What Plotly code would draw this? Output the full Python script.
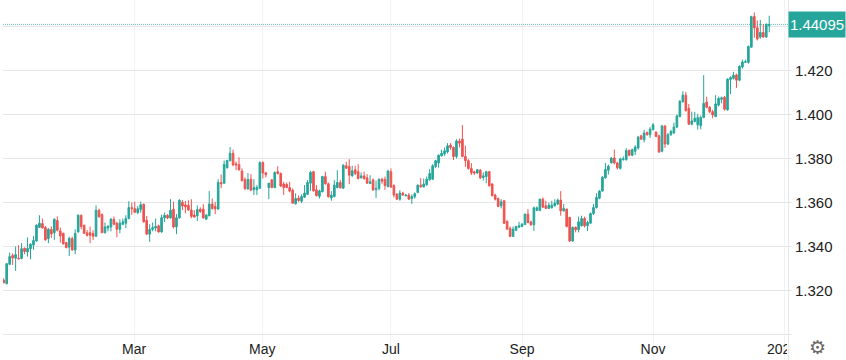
import plotly.graph_objects as go

opens = [
1.3247,1.3231,1.3319,1.3359,1.3347,1.3347,1.3345,1.3392,1.3375,1.3390,
1.3407,1.3425,1.3487,1.3504,1.3486,1.3436,1.3478,1.3463,1.3518,1.3471,
1.3460,1.3418,1.3397,1.3436,1.3384,1.3466,1.3542,1.3497,1.3462,1.3463,
1.3459,1.3447,1.3565,1.3545,1.3462,1.3484,1.3489,1.3524,1.3506,1.3478,
1.3501,1.3506,1.3527,1.3577,1.3572,1.3554,1.3569,1.3592,1.3519,1.3456,
1.3478,1.3484,1.3494,1.3466,1.3530,1.3542,1.3530,1.3569,1.3489,1.3530,
1.3601,1.3589,1.3587,1.3566,1.3543,1.3540,1.3569,
1.3570,1.3524,1.3540,1.3593,1.3582,1.3570,1.3691,1.3688,1.3758,1.3790,
1.3824,1.3776,1.3773,1.3743,1.3705,1.3662,1.3706,1.3658,1.3658,1.3665,
1.3782,1.3735,1.3668,1.3703,1.3668,1.3740,1.3732,1.3684,1.3682,1.3668,
1.3656,1.3594,1.3620,1.3606,1.3624,1.3637,1.3688,1.3740,1.3658,1.3628,
1.3649,1.3718,1.3685,1.3621,1.3627,1.3668,1.3691,1.3665,1.3767,1.3764,
1.3721,1.3749,1.3740,1.3712,1.3721,1.3712,1.3686,1.3703,1.3658,1.3664,
1.3705,1.3705,1.3673,1.3740,1.3677,1.3637,
1.3615,1.3643,1.3631,1.3634,1.3618,1.3626,1.3646,1.3679,1.3671,1.3681,
1.3703,1.3706,1.3764,1.3780,1.3812,1.3821,1.3830,1.3861,1.3850,1.3809,
1.3879,1.3888,1.3809,1.3790,1.3755,1.3740,1.3734,1.3747,1.3714,1.3718,
1.3740,1.3684,1.3634,1.3618,1.3585,1.3608,1.3515,1.3482,1.3446,1.3474,
1.3488,1.3491,1.3500,1.3547,1.3512,1.3499,1.3564,1.3564,1.3615,1.3585,
1.3573,1.3576,1.3585,1.3593,1.3611,1.3562,1.3570,1.3532,1.3425,1.3487,
1.3476,1.3494,1.3527,1.3494,1.3506,1.3550,1.3577,
1.3619,1.3652,1.3712,1.3747,1.3780,1.3802,1.3780,1.3755,1.3795,1.3795,
1.3838,1.3815,1.3833,1.3848,1.3903,1.3885,1.3918,1.3908,1.3931,1.3920,
1.3903,1.3833,1.3948,1.3866,1.3908,1.3916,1.3943,1.3991,1.4058,1.4088,
1.4028,1.3956,1.3968,1.3953,1.3949,1.3987,1.4057,1.4033,1.4013,1.3991,
1.4043,1.4069,1.4078,1.4021,1.4159,1.4164,1.4180,1.4156,1.4216,1.4237,
1.4237,1.4306,1.4445,1.4394,1.4352,1.4373,1.4352,1.4404,
]

highs = [
1.3256,1.3322,1.3372,1.3369,1.3400,1.3406,1.3415,1.3395,1.3441,1.3415,
1.3448,1.3501,1.3542,1.3527,1.3494,1.3484,1.3491,1.3528,1.3537,1.3486,
1.3463,1.3421,1.3445,1.3445,1.3478,1.3547,1.3545,1.3497,1.3475,1.3491,
1.3474,1.3587,1.3572,1.3551,1.3509,1.3497,1.3530,1.3536,1.3512,1.3524,
1.3527,1.3542,1.3606,1.3600,1.3604,1.3584,1.3604,1.3595,1.3539,1.3501,
1.3509,1.3527,1.3500,1.3545,1.3554,1.3547,1.3615,1.3604,1.3547,1.3615,
1.3612,1.3607,1.3610,1.3615,1.3565,1.3587,1.3578,
1.3593,1.3547,1.3652,1.3618,1.3603,1.3706,1.3727,1.3791,1.3794,1.3852,
1.3840,1.3787,1.3806,1.3755,1.3714,1.3734,1.3729,1.3706,1.3679,1.3787,
1.3787,1.3737,1.3688,1.3706,1.3741,1.3765,1.3737,1.3694,1.3691,1.3694,
1.3664,1.3642,1.3633,1.3637,1.3679,1.3702,1.3744,1.3744,1.3679,1.3658,
1.3721,1.3740,1.3691,1.3652,1.3702,1.3747,1.3703,1.3773,1.3785,1.3797,
1.3767,1.3767,1.3774,1.3737,1.3740,1.3729,1.3724,1.3709,1.3699,1.3709,
1.3712,1.3718,1.3749,1.3755,1.3683,1.3643,
1.3656,1.3649,1.3638,1.3643,1.3637,1.3646,1.3682,1.3711,1.3709,1.3718,
1.3752,1.3774,1.3794,1.3818,1.3840,1.3850,1.3870,1.3870,1.3855,1.3888,
1.3891,1.3952,1.3858,1.3797,1.3779,1.3744,1.3752,1.3752,1.3737,1.3744,
1.3744,1.3688,1.3640,1.3623,1.3615,1.3611,1.3518,1.3491,1.3491,1.3494,
1.3512,1.3506,1.3550,1.3570,1.3517,1.3582,1.3582,1.3618,1.3623,1.3608,
1.3600,1.3608,1.3615,1.3618,1.3652,1.3593,1.3573,1.3535,1.3491,1.3491,
1.3536,1.3540,1.3536,1.3517,1.3555,1.3593,1.3642,
1.3657,1.3720,1.3780,1.3773,1.3807,1.3840,1.3785,1.3804,1.3810,1.3847,
1.3840,1.3845,1.3860,1.3903,1.3908,1.3931,1.3923,1.3943,1.3961,1.3923,
1.3908,1.3953,1.3951,1.3916,1.3931,1.3963,1.3999,1.4066,1.4106,1.4103,
1.4048,1.4013,1.4012,1.4003,1.3995,1.4179,1.4081,1.4039,1.4021,1.4088,
1.4081,1.4081,1.4084,1.4164,1.4174,1.4194,1.4186,1.4224,1.4249,1.4249,
1.4314,1.4449,1.4464,1.4427,1.4430,1.4412,1.4415,1.4449,
]

lows = [
1.3235,1.3228,1.3315,1.3316,1.3289,1.3342,1.3342,1.3365,1.3354,1.3342,
1.3385,1.3421,1.3484,1.3481,1.3427,1.3415,1.3439,1.3430,1.3468,1.3418,
1.3409,1.3392,1.3357,1.3381,1.3365,1.3463,1.3478,1.3457,1.3445,1.3415,
1.3430,1.3444,1.3530,1.3460,1.3460,1.3469,1.3469,1.3497,1.3442,1.3460,
1.3497,1.3484,1.3524,1.3544,1.3551,1.3547,1.3554,1.3509,1.3453,1.3421,
1.3469,1.3469,1.3463,1.3463,1.3512,1.3524,1.3527,1.3483,1.3456,1.3527,
1.3566,1.3551,1.3563,1.3528,1.3531,1.3516,1.3553,
1.3527,1.3524,1.3537,1.3567,1.3547,1.3567,1.3665,1.3684,1.3755,1.3787,
1.3765,1.3747,1.3744,1.3696,1.3658,1.3658,1.3652,1.3634,1.3634,1.3662,
1.3709,1.3714,1.3615,1.3665,1.3665,1.3727,1.3670,1.3634,1.3665,1.3646,
1.3594,1.3591,1.3603,1.3597,1.3621,1.3634,1.3653,1.3649,1.3628,1.3618,
1.3646,1.3682,1.3623,1.3608,1.3623,1.3665,1.3664,1.3662,1.3752,1.3684,
1.3718,1.3725,1.3705,1.3709,1.3703,1.3685,1.3684,1.3652,1.3621,1.3655,
1.3685,1.3658,1.3668,1.3667,1.3623,1.3611,
1.3608,1.3630,1.3627,1.3612,1.3594,1.3618,1.3642,1.3668,1.3668,1.3676,
1.3699,1.3703,1.3756,1.3758,1.3809,1.3812,1.3823,1.3840,1.3793,1.3800,
1.3850,1.3806,1.3762,1.3749,1.3725,1.3725,1.3729,1.3706,1.3700,1.3688,
1.3673,1.3628,1.3609,1.3579,1.3573,1.3503,1.3476,1.3443,1.3443,1.3470,
1.3485,1.3488,1.3497,1.3506,1.3494,1.3471,1.3561,1.3561,1.3576,1.3570,
1.3570,1.3573,1.3582,1.3588,1.3540,1.3558,1.3487,1.3421,1.3421,1.3464,
1.3464,1.3491,1.3487,1.3470,1.3503,1.3543,1.3573,
1.3615,1.3649,1.3708,1.3727,1.3777,1.3773,1.3750,1.3750,1.3790,1.3790,
1.3810,1.3810,1.3816,1.3840,1.3885,1.3873,1.3904,1.3893,1.3928,1.3897,
1.3825,1.3828,1.3848,1.3861,1.3903,1.3912,1.3938,1.3987,1.4054,1.4013,
1.3953,1.3951,1.3965,1.3931,1.3933,1.3983,1.4028,1.4006,1.3983,1.3988,
1.4036,1.4051,1.4018,1.4018,1.4093,1.4159,1.4121,1.4151,1.4209,1.4234,
1.4231,1.4303,1.4349,1.4337,1.4344,1.4349,1.4349,1.4374,
]

closes = [
1.3235,1.3322,1.3354,1.3348,1.3363,1.3344,1.3390,1.3377,1.3392,1.3410,
1.3427,1.3497,1.3506,1.3484,1.3430,1.3478,1.3457,1.3524,1.3474,1.3448,
1.3412,1.3395,1.3437,1.3384,1.3460,1.3542,1.3491,1.3460,1.3451,1.3451,
1.3447,1.3565,1.3536,1.3463,1.3489,1.3492,1.3524,1.3501,1.3478,1.3506,
1.3512,1.3527,1.3577,1.3572,1.3556,1.3572,1.3590,1.3512,1.3456,1.3478,
1.3486,1.3491,1.3466,1.3531,1.3542,1.3530,1.3565,1.3489,1.3531,1.3610,
1.3584,1.3580,1.3566,1.3537,1.3534,1.3568,1.3559,
1.3530,1.3543,1.3593,1.3573,1.3571,1.3691,1.3685,1.3773,1.3791,1.3824,
1.3771,1.3771,1.3749,1.3699,1.3662,1.3705,1.3656,1.3668,1.3668,1.3782,
1.3734,1.3726,1.3688,1.3668,1.3737,1.3732,1.3675,1.3668,1.3668,1.3652,
1.3597,1.3618,1.3609,1.3627,1.3643,1.3691,1.3737,1.3653,1.3631,1.3653,
1.3718,1.3685,1.3626,1.3633,1.3679,1.3691,1.3667,1.3770,1.3756,1.3724,
1.3744,1.3732,1.3709,1.3721,1.3709,1.3688,1.3694,1.3658,1.3664,1.3706,
1.3697,1.3677,1.3743,1.3670,1.3634,1.3615,
1.3643,1.3634,1.3634,1.3615,1.3627,1.3640,1.3679,1.3671,1.3684,1.3706,
1.3732,1.3767,1.3790,1.3815,1.3824,1.3835,1.3858,1.3850,1.3809,1.3880,
1.3870,1.3809,1.3790,1.3755,1.3734,1.3734,1.3749,1.3712,1.3721,1.3740,
1.3676,1.3631,1.3615,1.3582,1.3603,1.3506,1.3479,1.3446,1.3479,1.3491,
1.3494,1.3502,1.3547,1.3509,1.3499,1.3576,1.3576,1.3615,1.3579,1.3573,
1.3588,1.3588,1.3597,1.3611,1.3562,1.3573,1.3491,1.3425,1.3487,1.3476,
1.3512,1.3527,1.3494,1.3509,1.3550,1.3577,1.3623,
1.3652,1.3715,1.3750,1.3765,1.3802,1.3780,1.3758,1.3798,1.3798,1.3836,
1.3815,1.3840,1.3852,1.3897,1.3888,1.3916,1.3908,1.3933,1.3953,1.3900,
1.3830,1.3948,1.3866,1.3908,1.3923,1.3943,1.3994,1.4060,1.4088,1.4018,
1.3956,1.3971,1.3983,1.3986,1.3987,1.4051,1.4033,1.4013,1.3998,1.4048,
1.4073,1.4076,1.4024,1.4161,1.4168,1.4179,1.4156,1.4219,1.4239,1.4240,
1.4309,1.4445,1.4394,1.4344,1.4373,1.4352,1.4409,1.44095,
]

month_positions = [43.8, 86.8, 130, 174, 218, 262.2]
month_labels = ["Mar", "May", "Jul", "Sep", "Nov", ""]
cut_year_label = "2020"
price_ticks = [1.30, 1.32, 1.34, 1.36, 1.38, 1.40, 1.42, 1.44]
price_labels = ["", "1.320", "1.340", "1.360", "1.380", "1.400", "1.420", ""]
last_price = 1.44095

UP = "#26a69a"
DOWN = "#ef5350"
FONT = "Liberation Sans, Arial, sans-serif"

fig = go.Figure(go.Candlestick(
    x=list(range(len(opens))),
    open=opens, high=highs, low=lows, close=closes,
    increasing=dict(line=dict(color=UP, width=1), fillcolor=UP),
    decreasing=dict(line=dict(color=DOWN, width=1), fillcolor=DOWN),
    whiskerwidth=0,
))

fig.update_layout(
    width=846, height=360,
    autosize=False,
    margin=dict(l=3, r=58, t=0, b=0),
    paper_bgcolor="white",
    plot_bgcolor="white",
    showlegend=False,
    font=dict(family=FONT, size=14, color="#222222"),
    boxgap=0.22,
    xaxis=dict(
        range=[-0.235, 263.3],
        rangeslider=dict(visible=False),
        tickmode="array",
        tickvals=month_positions,
        ticktext=month_labels,
        ticklabelposition="inside",
        showgrid=True,
        gridcolor="#f0f3fa",
        gridwidth=1,
        zeroline=False,
        showline=False,
        ticks="",
        tickfont=dict(family=FONT, size=14, color="#222222"),
    ),
    yaxis=dict(
        side="right",
        range=[1.28841, 1.45205],
        tickmode="array",
        tickvals=price_ticks,
        ticktext=price_labels,
        showgrid=True,
        gridcolor="#e6e6e6",
        gridwidth=1,
        zeroline=False,
        showline=True,
        linecolor="#e6e6e6",
        linewidth=1,
        ticks="outside",
        ticklen=3,
        tickcolor="#e6e6e6",
        tickfont=dict(family=FONT, size=15, color="#222222"),
    ),
    shapes=[
        dict(type="line", xref="paper", yref="y", x0=0, x1=1,
             y0=last_price, y1=last_price,
             line=dict(color=UP, width=1, dash="1px,1px"), opacity=0.7),
    ],
    annotations=[
        dict(xref="paper", yref="y", x=1.0, y=last_price, xanchor="left", yanchor="middle",
             width=56, height=25, align="center",
             text=str(last_price), showarrow=False, bgcolor=UP, borderpad=0,
             font=dict(family=FONT, size=15, color="white")),
        dict(xref="paper", yref="paper", x=1.0, y=0.0306, xanchor="right", yanchor="middle",
             width=20, height=18, align="left", borderpad=0,
             text=cut_year_label, showarrow=False,
             font=dict(family=FONT, size=14, color="#222222")),
        dict(xref="paper", yref="paper", x=1.0 + 29 / 785, y=0.035, xanchor="center", yanchor="middle",
             text="\u2699", showarrow=False,
             font=dict(family="DejaVu Sans", size=19, color="#666666")),
    ],
)

fig.write_html("out.html", config=dict(displayModeBar=False),
               post_script="document.body.style.margin='0';")
